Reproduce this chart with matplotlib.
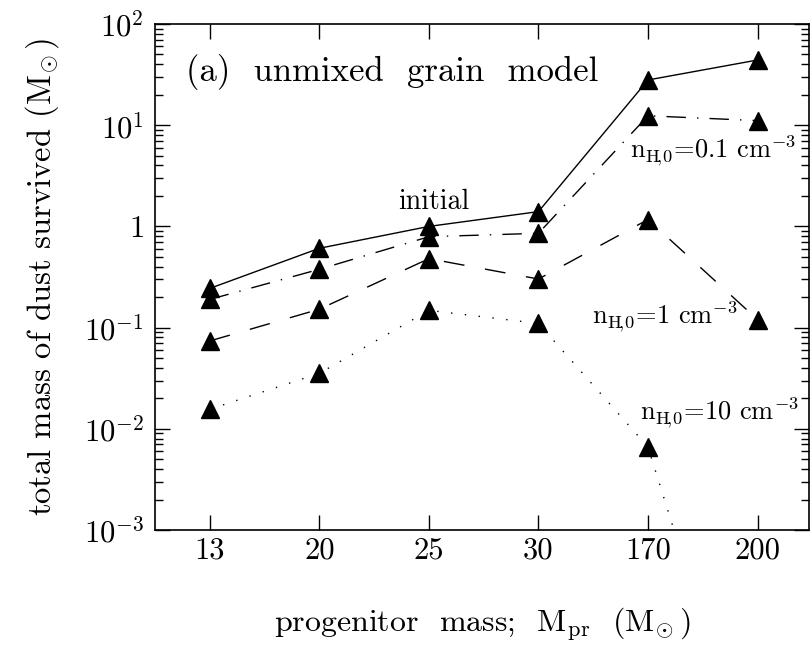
import matplotlib
matplotlib.use("Agg")
import matplotlib.pyplot as plt
from matplotlib.ticker import FixedLocator, FixedFormatter, LogLocator, NullFormatter

plt.rcParams['font.family'] = 'cmr10'
plt.rcParams['mathtext.fontset'] = 'cm'
plt.rcParams['axes.formatter.use_mathtext'] = True

categories = ["13", "20", "25", "30", "170", "200"]
initial = [0.244, 0.608, 1.0, 1.40, 28.0, 44.1]
n01 = [0.190, 0.377, 0.791, 0.855, 12.4, 11.1]
n1 = [0.0738, 0.152, 0.480, 0.302, 1.17, 0.120]
n10 = [0.0156, 0.0353, 0.148, 0.110, 0.0066, 2.3e-6]

ytick_vals = [1e-3, 1e-2, 1e-1, 1, 10, 100]
ytick_labels = [r"$10^{-3}$", r"$10^{-2}$", r"$10^{-1}$", r"$1$", r"$10^{1}$", r"$10^{2}$"]

fig = plt.figure(figsize=(8.1, 6.46), dpi=100)
ax = fig.add_axes([0.1914, 0.1796, 0.8074, 0.7832])

x = list(range(1, len(categories) + 1))
mk = dict(marker='^', markersize=13, color='black', markerfacecolor='black',
          markeredgecolor='black', lw=1.0, clip_on=True)
ax.plot(x, n10, linestyle=(0, (1, 9)), zorder=2, **mk)
ax.plot(x, n1, linestyle=(0, (15, 15)), zorder=3, **mk)
ax.plot(x, n01, linestyle=(0, (14, 8, 1, 8)), zorder=4, **mk)
ax.plot(x, initial, linestyle='-', zorder=5, **mk)

ax.set_yscale('log')
ax.set_ylim(1e-3, 1e2)
ax.set_xlim(0.5, 6.47)

ax.xaxis.set_major_locator(FixedLocator(x))
ax.xaxis.set_major_formatter(FixedFormatter(categories))
ax.yaxis.set_major_locator(FixedLocator(ytick_vals))
ax.yaxis.set_major_formatter(FixedFormatter(ytick_labels))
ax.yaxis.set_minor_locator(LogLocator(base=10, subs=range(2, 10), numticks=20))
ax.yaxis.set_minor_formatter(NullFormatter())

ax.tick_params(which='both', direction='in', top=True, right=True, width=1.0, colors='black')
ax.tick_params(which='major', length=11, labelsize=22)
ax.tick_params(axis='x', which='major', pad=5)
ax.tick_params(axis='y', which='major', pad=8)
ax.tick_params(which='minor', length=6)
for s in ax.spines.values():
    s.set_linewidth(1.2)

ax.set_xlabel(r"progenitor  mass;  M$_{\rm pr}$  (M$_{\!\odot}$)", fontsize=23, labelpad=30)
ax.set_ylabel(r"total mass of dust survived (M$_{\!\odot}$)", fontsize=23.5, labelpad=16)

sub = r"$_{\rm H\!,\!0}$"
ax.text(0.047, 0.905, "(a)  unmixed  grain  model", transform=ax.transAxes, fontsize=25,
        ha='left', va='center')
ax.text(3.04, 1.74, "initial", fontsize=20, ha='center', va='center')
ax.text(5.59, 5.6, "n" + sub + r"=0.1 cm$^{-3}$", fontsize=19, ha='center', va='center')
ax.text(5.15, 0.127, "n" + sub + r"=1 cm$^{-3}$", fontsize=19, ha='center', va='center')
ax.text(5.65, 0.0143, "n" + sub + r"=10 cm$^{-3}$", fontsize=19, ha='center', va='center')

fig.savefig("out.png", dpi=100)
